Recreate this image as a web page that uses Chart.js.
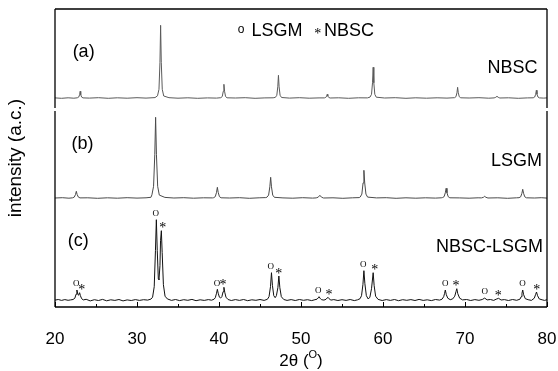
<!DOCTYPE html>
<html>
<head>
<meta charset="utf-8">
<script src="https://cdn.jsdelivr.net/npm/chart.js@4.4.0/dist/chart.umd.min.js"></script>
<style>
    body { margin: 0; background: #fff; }
    #box { width: 558px; height: 371px; }
</style>
</head>
<body>
<div id="box"><canvas id="xrd" width="558" height="371"></canvas></div>
<script>
// donnees : [2theta, intensite au-dessus de la ligne de base]
const traceA = [
    [20, 0.4], [20.8, 0], [21.6, 0.5], [22.3, 0.1],
    [22.72, 0.5], [22.89, 1.2], [23.0, 3.5], [23.07, 7], [23.14, 3.5], [23.25, 1.2], [23.42, 0.4],
    [24.2, 0.2], [25.3, 0.6], [26.5, 0], [27.6, 0.5], [28.8, 0.1], [30, 0.6], [31.1, 0.2], [32.2, 0.7],
    [32.5, 2.5], [32.68, 9], [32.8, 36], [32.88, 73], [32.96, 36], [33.08, 9], [33.26, 2.3],
    [33.9, 0.6], [35, 0.1], [36.2, 0.5], [37.4, 0], [38.6, 0.4], [39.7, 0.2],
    [40.22, 0.6], [40.4, 1.8], [40.52, 7], [40.6, 14], [40.68, 7], [40.8, 1.8], [40.98, 0.5],
    [42, 0.3], [43.2, 0.6], [44.4, 0], [45.6, 0.4], [46.6, 0.5],
    [46.87, 0.9], [47.05, 3], [47.17, 11.5], [47.25, 23], [47.33, 11.5], [47.45, 3], [47.63, 0.8],
    [48.6, 0.2], [49.8, 0.6], [51, 0.1], [52.2, 0.4],
    [52.85, 0.4], [53.02, 0.9], [53.13, 2.2], [53.2, 4], [53.27, 2.2], [53.38, 0.9], [53.55, 0.3],
    [54.6, 0.5], [55.8, 0], [57, 0.5], [58.1, 0.4],
    [58.42, 1.2], [58.6, 4], [58.72, 15.5], [58.8, 31], [58.88, 15.5], [59.0, 4], [59.18, 1.1],
    [60.2, 0.3], [61.5, 0.6], [62.8, 0], [64, 0.5], [65.3, 0.1], [66.6, 0.5], [67.8, 0.2],
    [68.72, 0.6], [68.9, 1.6], [69.02, 5.5], [69.1, 11], [69.18, 5.5], [69.3, 1.6], [69.48, 0.5],
    [70.5, 0.3], [71.7, 0.6], [72.9, 0.1],
    [73.55, 0.4], [73.75, 1], [73.9, 2], [74.05, 1], [74.25, 0.3],
    [75.3, 0.5], [76.5, 0], [77.6, 0.4],
    [78.32, 0.5], [78.5, 1.3], [78.62, 4], [78.7, 8], [78.78, 4], [78.9, 1.3], [79.08, 0.4],
    [79.6, 0.2], [80, 0.4]
];

const traceB = [
    [20, 0.3], [20.9, 0.6], [21.7, 0.1],
    [22.15, 0.5], [22.35, 1.2], [22.5, 3.8], [22.6, 7], [22.7, 3.8], [22.85, 1.2], [23.05, 0.4],
    [24, 0.5], [25.2, 0], [26.4, 0.5], [27.6, 0.1], [28.8, 0.6], [30, 0.2], [31.1, 0.5], [31.7, 1],
    [31.82, 3.5], [32.02, 12], [32.17, 44], [32.27, 81], [32.37, 44], [32.52, 12], [32.72, 3.2],
    [33.4, 0.9], [34.5, 0.3], [35.7, 0.6], [36.9, 0.1], [38.1, 0.5], [39.2, 0.4],
    [39.35, 0.6], [39.55, 1.7], [39.7, 6], [39.8, 11], [39.9, 6], [40.05, 1.7], [40.25, 0.5],
    [41.3, 0.3], [42.5, 0.6], [43.7, 0], [44.9, 0.5], [45.7, 0.7],
    [45.85, 1.1], [46.05, 3.2], [46.2, 11.5], [46.3, 21], [46.4, 11.5], [46.55, 3.2], [46.75, 1],
    [47.8, 0.4], [49, 0.1], [50.2, 0.6], [51.4, 0.2],
    [51.85, 0.4], [52.1, 1.1], [52.3, 3], [52.5, 1.1], [52.75, 0.3],
    [53.9, 0.5], [55.1, 0], [56.3, 0.5], [57.1, 0.7],
    [57.22, 1.3], [57.42, 4.2], [57.57, 15.4], [57.67, 28], [57.77, 15.4], [57.92, 4.2], [58.12, 1.2],
    [59.2, 0.4], [60.4, 0.6], [61.6, 0], [62.8, 0.5], [64, 0.1], [65.2, 0.5], [66.4, 0.2], [67.1, 0.5],
    [67.25, 0.7], [67.45, 1.6], [67.6, 5.5], [67.7, 10], [67.8, 5.5], [67.95, 1.6], [68.15, 0.5],
    [69.3, 0.4], [70.5, 0.1], [71.6, 0.5],
    [72.0, 0.4], [72.25, 1], [72.4, 2], [72.55, 1], [72.8, 0.3],
    [74, 0.5], [75.2, 0], [76.3, 0.5],
    [76.59, 0.6], [76.79, 1.5], [76.94, 5], [77.04, 9], [77.14, 5], [77.29, 1.5], [77.49, 0.5],
    [78.5, 0.3], [79.3, 0.6], [80, 0.2]
];

const traceC = [
    [20, 0.6], [20.4, 1.2], [20.8, 0.3], [21.2, 1.1], [21.6, 0.4], [21.9, 0.8],
    [22.2, 1.2], [22.42, 2.5], [22.57, 6.5], [22.67, 10.7], [22.8, 6], [22.88, 5.5], [23.0, 8], [23.1, 5], [23.25, 2], [23.45, 0.8],
    [23.8, 1.4], [24.3, -0.2], [24.8, 1], [25.3, 0.2], [25.8, 1.3], [26.3, -0.1], [26.8, 0.9], [27.3, 0.3],
    [27.8, 1.2], [28.3, -0.2], [28.8, 0.8], [29.3, 0.2], [29.8, 1.1], [30.3, 0.3], [30.8, 1], [31.3, 0.6], [31.7, 1.6],
    [31.9, 3.5], [32.1, 14], [32.25, 50], [32.36, 81], [32.47, 50], [32.6, 22], [32.68, 21], [32.8, 35],
    [32.87, 60], [32.97, 70], [33.07, 48], [33.22, 16], [33.42, 4.5], [33.7, 1.8],
    [34.2, 0.3], [34.7, 1.2], [35.2, 0.1], [35.7, 1], [36.2, 0.4], [36.7, 1.3], [37.2, 0], [37.7, 0.9],
    [38.2, 0.3], [38.7, 1.1], [39.1, 0.5], [39.4, 1.5],
    [39.55, 3], [39.7, 7.5], [39.8, 11.4], [39.9, 7.5], [40.05, 3.5], [40.2, 2.7], [40.35, 4], [40.5, 9],
    [40.6, 13.4], [40.7, 8.5], [40.85, 3.5], [41.1, 1.2],
    [41.5, 0.2], [42, 1.1], [42.5, 0.3], [43, 1.2], [43.5, 0], [44, 0.9], [44.5, 0.4], [45, 1.2], [45.5, 0.3], [45.9, 1.4],
    [46.1, 4], [46.28, 14], [46.4, 28], [46.52, 15], [46.68, 5], [46.85, 3], [47.0, 5], [47.18, 13],
    [47.3, 24.7], [47.42, 13], [47.6, 4], [47.9, 1.2],
    [48.3, 0.3], [48.8, 1.1], [49.3, 0.2], [49.8, 1.2], [50.3, 0.4], [50.8, 1], [51.3, 0.1], [51.7, 1],
    [51.95, 1.5], [52.1, 2.8], [52.2, 4], [52.32, 2.5], [52.5, 1], [52.8, 0.6], [53.05, 1.4], [53.2, 2.8],
    [53.3, 3.4], [53.42, 2], [53.65, 0.6],
    [54, 1.1], [54.5, 0.2], [55, 1], [55.5, 0.3], [56, 1.2], [56.5, 0.1], [56.9, 0.9], [57.2, 2],
    [57.38, 5], [57.55, 16], [57.67, 30], [57.79, 17], [57.97, 5], [58.2, 1.7], [58.4, 3.5], [58.6, 12],
    [58.8, 28], [58.92, 15], [59.1, 4.5], [59.4, 1.3],
    [59.9, 0.2], [60.4, 1.1], [60.9, 0.3], [61.4, 1.2], [61.9, 0], [62.4, 1], [62.9, 0.4], [63.4, 1.1],
    [63.9, 0.2], [64.4, 1.3], [64.9, 0.3], [65.4, 0.9], [65.9, 0.1], [66.4, 1.2], [66.9, 0.6], [67.2, 1.5],
    [67.4, 4], [67.5, 7], [67.6, 10.7], [67.72, 6], [67.9, 2.5], [68.2, 1], [68.5, 1.8], [68.75, 4.5],
    [68.9, 9], [69.0, 12], [69.12, 7], [69.35, 2.5], [69.7, 0.8],
    [70.2, 1.2], [70.7, 0.2], [71.2, 1.1], [71.7, 0.4], [72.1, 1.2],
    [72.4, 2.6], [72.7, 0.8], [73.1, 1.2], [73.5, 0.3], [73.8, 1.5], [74.1, 2.4], [74.4, 0.7], [74.8, 1.1],
    [75.3, 0.2], [75.8, 1.2], [76.3, 0.4], [76.7, 1.5],
    [76.85, 4], [76.95, 7.5], [77.04, 10.7], [77.15, 6], [77.35, 2], [77.7, 1], [78.1, 0.3], [78.45, 2.5],
    [78.6, 6], [78.72, 8.7], [78.85, 5], [79.05, 1.8], [79.4, 0.9], [79.7, 0.3], [80, 1]
];

// reperes des phases au-dessus de la courbe (c)
const markerTheta = [22.6, 23.25, 32.3, 33.15, 39.75, 40.5, 46.3, 47.3, 52.1, 53.4, 57.6, 59.0, 67.6, 68.9, 72.4, 74.05, 77.0, 78.75];
const markerSymbol = ['O', '*', 'O', '*', 'O', '*', 'O', '*', 'O', '*', 'O', '*', 'O', '*', 'O', '*', 'O', '*'];

const xTicks = [20, 30, 40, 50, 60, 70, 80];

const sansFont = '"Liberation Sans", Arial, sans-serif';
const serifFont = '"Liberation Serif", "Times New Roman", serif';

function toPoints(trace, offset) {
    return trace.map(p => ({ x: p[0], y: p[1] + offset }));
}

function peakTop(trace, theta) {
    let best = 0;
    trace.forEach(p => {
        if (Math.abs(p[0] - theta) <= 0.35 && p[1] > best) best = p[1];
    });
    return best;
}

const decor = {
    id: 'decor',
    afterDraw(chart) {
        const ctx = chart.ctx;
        const a = chart.chartArea;
        const sx = chart.scales.x;
        const sy = chart.scales.y;
        ctx.save();
        ctx.strokeStyle = '#000';
        ctx.lineWidth = 1.3;
        // cadre (petite coupure a gauche et a droite entre (a) et (b))
        ctx.beginPath();
        ctx.moveTo(a.left, a.top); ctx.lineTo(a.right, a.top);
        ctx.moveTo(a.left, a.bottom); ctx.lineTo(a.right, a.bottom);
        ctx.moveTo(a.left, a.top); ctx.lineTo(a.left, a.top + 99);
        ctx.moveTo(a.left, a.top + 102); ctx.lineTo(a.left, a.bottom);
        ctx.moveTo(a.right, a.top); ctx.lineTo(a.right, a.top + 99);
        ctx.moveTo(a.right, a.top + 102); ctx.lineTo(a.right, a.bottom);
        ctx.stroke();
        // graduations vers l'interieur
        ctx.lineWidth = 1;
        ctx.beginPath();
        for (let t = 20; t <= 80; t += 5) {
            const px = Math.round(sx.getPixelForValue(t)) + 0.5;
            const len = (t % 10 === 0) ? 5 : 3;
            ctx.moveTo(px, a.bottom);
            ctx.lineTo(px, a.bottom - len);
        }
        ctx.stroke();

        ctx.fillStyle = '#000';
        ctx.textBaseline = 'middle';
        ctx.font = '18px ' + sansFont;
        ctx.textAlign = 'left';
        ctx.fillText('(a)', sx.getPixelForValue(22.15), sy.getPixelForValue(255));
        ctx.fillText('(b)', sx.getPixelForValue(22.0), sy.getPixelForValue(163));
        ctx.fillText('(c)', sx.getPixelForValue(21.55), sy.getPixelForValue(66));
        ctx.textAlign = 'right';
        ctx.fillText('NBSC', sx.getPixelForValue(78.85), sy.getPixelForValue(239));
        ctx.fillText('LSGM', sx.getPixelForValue(79.4), sy.getPixelForValue(146));
        ctx.fillText('NBSC-LSGM', sx.getPixelForValue(79.5), sy.getPixelForValue(60));

        // legende du haut
        ctx.textAlign = 'left';
        ctx.fillText('LSGM', sx.getPixelForValue(43.96), sy.getPixelForValue(276));
        ctx.fillText('NBSC', sx.getPixelForValue(52.8), sy.getPixelForValue(276));
        ctx.textAlign = 'center';
        ctx.font = '12px ' + sansFont;
        ctx.fillText('o', sx.getPixelForValue(42.7), sy.getPixelForValue(277));
        ctx.font = '14px ' + serifFont;
        ctx.fillText('*', sx.getPixelForValue(52.05), sy.getPixelForValue(273));

        // symboles sur (c)
        for (let i = 0; i < markerTheta.length; i++) {
            const top = peakTop(traceC, markerTheta[i]) + 6.3;
            const px = sx.getPixelForValue(markerTheta[i]);
            if (markerSymbol[i] === 'O') {
                ctx.font = '9px ' + serifFont;
                ctx.fillText('O', px, sy.getPixelForValue(top + 6));
            } else {
                ctx.font = '14px ' + serifFont;
                ctx.fillText('*', px, sy.getPixelForValue(top + 2));
            }
        }

        // titres des axes
        ctx.font = '17px ' + sansFont;
        ctx.textAlign = 'left';
        const tx = (a.left + a.right) / 2;
        const ty = 361;
        const part1 = '2\u03b8 (';
        const w1 = ctx.measureText(part1).width;
        ctx.font = '11px ' + sansFont;
        const w2 = ctx.measureText('O').width;
        ctx.font = '17px ' + sansFont;
        const w3 = ctx.measureText(')').width;
        let x0 = tx - (w1 + w2 + w3) / 2;
        ctx.fillText(part1, x0, ty);
        ctx.font = '11px ' + sansFont;
        ctx.fillText('O', x0 + w1, ty - 6);
        ctx.font = '17px ' + sansFont;
        ctx.fillText(')', x0 + w1 + w2, ty);

        ctx.font = '19px ' + sansFont;
        ctx.translate(16, (a.top + a.bottom) / 2);
        ctx.rotate(-Math.PI / 2);
        ctx.textAlign = 'center';
        ctx.fillText('intensity (a.c.)', 0, 0);
        ctx.restore();
    }
};

const ctx = document.getElementById('xrd');
new Chart(ctx, {
    type: 'line',
    data: {
        datasets: [
            { label: 'NBSC', data: toPoints(traceA, 208.7), borderColor: '#5a5a5a', borderWidth: 1, pointRadius: 0, tension: 0 },
            { label: 'LSGM', data: toPoints(traceB, 108.7), borderColor: '#4a4a4a', borderWidth: 1, pointRadius: 0, tension: 0 },
            { label: 'NBSC-LSGM', data: toPoints(traceC, 6.3), borderColor: '#111', borderWidth: 1, pointRadius: 0, tension: 0 }
        ]
    },
    options: {
        responsive: false,
        animation: false,
        layout: { padding: { left: 55, right: 11, top: 9, bottom: 0 } },
        plugins: { legend: { display: false }, tooltip: { enabled: false } },
        scales: {
            x: {
                type: 'linear',
                min: 20,
                max: 80,
                afterBuildTicks: (axis) => { axis.ticks = xTicks.map(v => ({ value: v })); },
                ticks: { color: '#000', font: { family: sansFont, size: 17 }, padding: 22, maxRotation: 0 },
                grid: { display: false, drawTicks: false },
                border: { display: false },
                afterFit: (axis) => {
                    axis.height = 64;
                    // pas de marge auto pour les etiquettes aux bords
                    axis.paddingLeft = 0;
                    axis.paddingRight = 0;
                }
            },
            y: {
                display: false,
                min: 0,
                max: 298
            }
        }
    },
    plugins: [decor]
});
</script>
</body>
</html>
